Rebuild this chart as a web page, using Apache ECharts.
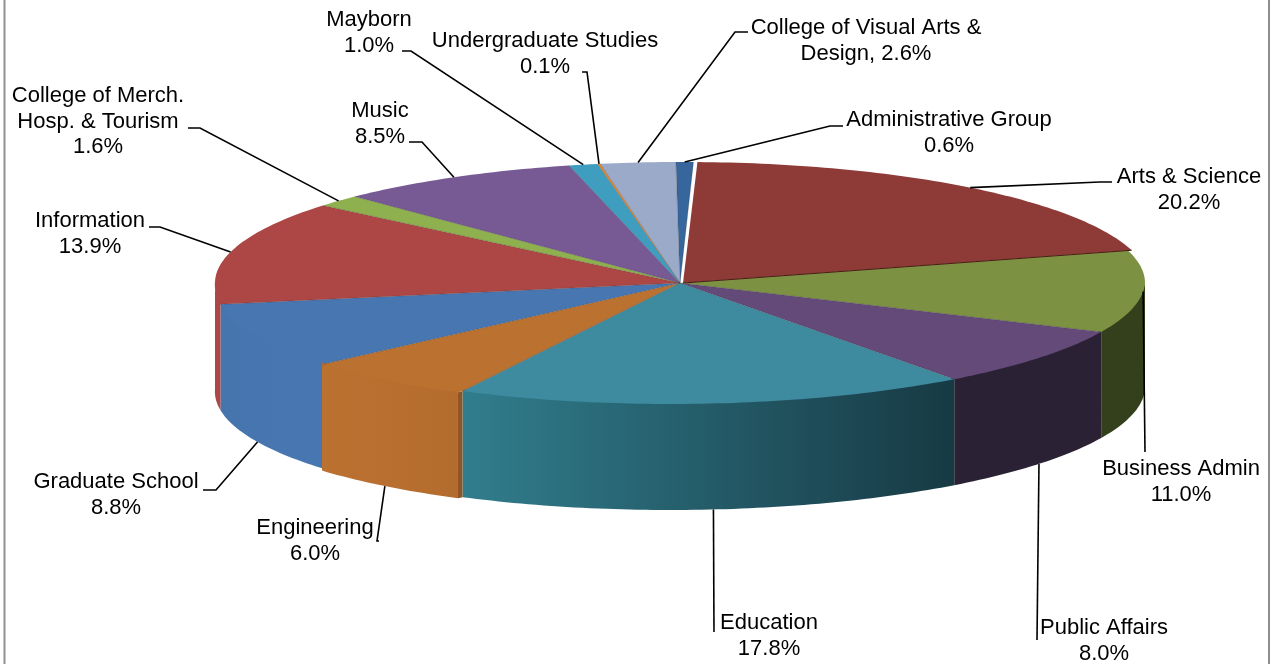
<!DOCTYPE html>
<html>
<head>
<meta charset="utf-8">
<style>html,body{margin:0;padding:0;background:#fff}#c{width:1276px;height:664px}</style>
<script src="https://cdn.jsdelivr.net/npm/echarts@6/dist/echarts.min.js"></script>
</head>
<body>
<div id="c"></div>
<script>
// data
var names = ['Administrative Group','Arts & Science','Business Admin','Public Affairs','Education','Engineering','Graduate School','Information','College of Merch. Hosp. & Tourism','Music','Mayborn','Undergraduate Studies','College of Visual Arts & Design'];
var values = [0.6,20.2,11.0,8.0,17.8,6.0,8.8,13.9,1.6,8.5,1.0,0.1,2.6];
var labelTexts = [
  ['Administrative Group','0.6%'],
  ['Arts & Science','20.2%'],
  ['Business Admin','11.0%'],
  ['Public Affairs','8.0%'],
  ['Education','17.8%'],
  ['Engineering','6.0%'],
  ['Graduate School','8.8%'],
  ['Information','13.9%'],
  ['College of Merch.','Hosp. & Tourism','1.6%'],
  ['Music','8.5%'],
  ['Mayborn','1.0%'],
  ['Undergraduate Studies','0.1%'],
  ['College of Visual Arts &','Design, 2.6%']
];
// style + layout
var topColors = ['#36669b','#8e3b38','#7c9142','#644a78','#3e8a9e','#bb7130','#4876b1','#ad4745','#8fb04e','#775a93','#3f9ebf','#d9893d','#9aaac8'];
var wallColors = [null,null,['#33401b','#33401b'],['#2b2135','#2b2135'],['#317d8d','#173a44'],['#bb7130','#b46c2e'],['#4675ae','#4876b1'],['#ad4745','#ad4745'],null,null,null,null,null];
var wallOrder = {5:1.5};
var topOrder = {5:2.5,4:3};
var labelCenter = [[949,120],[1189,177],[1181,469],[1104,628],[769,623],[315,528],[116,482],[90,221],[98,96],[380,111],[369,20],[545,41],[866,28]];
var leaderElbow = [
  [[843,126],[830,126]],
  [[1112,182],[1100,182]],
  [[1145,452]],
  [[1037,640]],
  [[714,632]],
  [[379,541],[377,541]],
  [[203,490],[216,490]],
  [[149,227],[160,227]],
  [[188,128],[200,128]],
  [[409,142],[422,142]],
  [[402,51],[411,51]],
  [[582,72],[587,72]],
  [[748,32],[735,32]]
];
var cx = 680, cy = 283, rx = 465, ry = 121, depth = 106, startDeg = -0.5, warp = 10, lineH = 25.5;
var rimOffset = {1:[4,0],5:[-4.5,1]};
var apexOffset = {1:[3,0]};
var total = values.reduce(function(a,b){return a+b;},0);

function pt(deg, off){
  var t = deg*Math.PI/180, c = Math.cos(t), s = Math.sin(t);
  return [cx + rx*s - warp*Math.max(0,-c) + (off?off[0]:0), cy - ry*c + (off?off[1]:0)];
}
function arc(a,b,off,dy){
  var n = Math.max(2,Math.ceil(Math.abs(b-a))), out=[];
  for(var i=0;i<=n;i++){var p=pt(a+(b-a)*i/n,off);out.push([p[0],p[1]+(dy||0)]);}
  return out;
}
function renderItem(params, api){
  var i = params.dataIndex, v = api.value(0), cum = api.value(1);
  var a = startDeg + cum/total*360, b = a + v/total*360, mid = (a+b)/2;
  var off = rimOffset[i], ao = apexOffset[i] || [0,0];
  var kids = [];
  // wall: only the part of the rim facing the viewer (90..270 degrees)
  var wa = Math.max(a,90), wb = Math.min(b,270);
  if(wb>wa && wallColors[i]){
    var upper = arc(wa,wb,off,-2), lower = arc(wa,wb,off,depth).reverse();
    var xs = upper.map(function(p){return p[0];});
    kids.push({type:'polygon',z2:wallOrder[i]||1,shape:{points:upper.concat(lower)},style:{
      fill:{type:'linear',global:true,x:Math.min.apply(null,xs),y:0,x2:Math.max.apply(null,xs),y2:0,
        colorStops:[{offset:0,color:wallColors[i][0]},{offset:1,color:wallColors[i][1]}]}}});
  }
  var apex=[cx+ao[0],cy+ao[1]];
  var topPts = [apex];
  // cut face of the pulled-out slice
  if(off && off[0]<0){
    var p1=pt(a,off), p2=pt(a);
    kids.push({type:'polygon',z2:1,shape:{points:[p1,p2,[p2[0],p2[1]+depth],[p1[0],p1[1]+depth]]},style:{fill:'#8f5523'}});
    topPts.push(p2);
  }
  // top face
  topPts = topPts.concat(arc(a,b,off,0));
  kids.push({type:'polygon',z2:topOrder[i]||2,shape:{points:topPts},style:{fill:topColors[i]}});
  // thin radial seam at the slice's clockwise edge
  kids.push({type:'polyline',z2:4,shape:{points:[apex,pt(b,off)]},
    style:{stroke:i===1?'#4a1a18':'rgba(40,40,40,0.4)',lineWidth:i===1?1.2:0.6,fill:null}});
  // leader
  var anchorFront = mid>110 && mid<270;
  var an = pt(mid, off); if(anchorFront) an[1]+=depth;
  var pts = leaderElbow[i].concat([an]);
  kids.push({type:'polyline',z2:5,shape:{points:pts},style:{stroke:'#000',lineWidth:1.6,fill:null}});
  // label
  var lc = labelCenter[i];
  labelTexts[i].forEach(function(t,k){
    kids.push({type:'text',z2:6,style:{text:t,x:lc[0],y:lc[1]+k*lineH,fill:'#000',
      font:'22px "Liberation Sans", Arial, sans-serif',textAlign:'center',textVerticalAlign:'middle'}});
  });
  return {type:'group',children:kids};
}
var cumul=0, seriesData=values.map(function(v){var r=[v,cumul];cumul+=v;return r;});
var chart = echarts.init(document.getElementById('c'),null,{renderer:'canvas'});
chart.setOption({
  animation:false,
  backgroundColor:'#fff',
  graphic:[{type:'rect',z:-1,silent:true,shape:{x:4.5,y:-10,width:1264.5,height:700},style:{fill:'#fff',stroke:'#8f8f8f',lineWidth:2}}],
  series:[{type:'custom',coordinateSystem:'none',renderItem:renderItem,data:seriesData,silent:true,clip:false}]
});
</script>
</body>
</html>
